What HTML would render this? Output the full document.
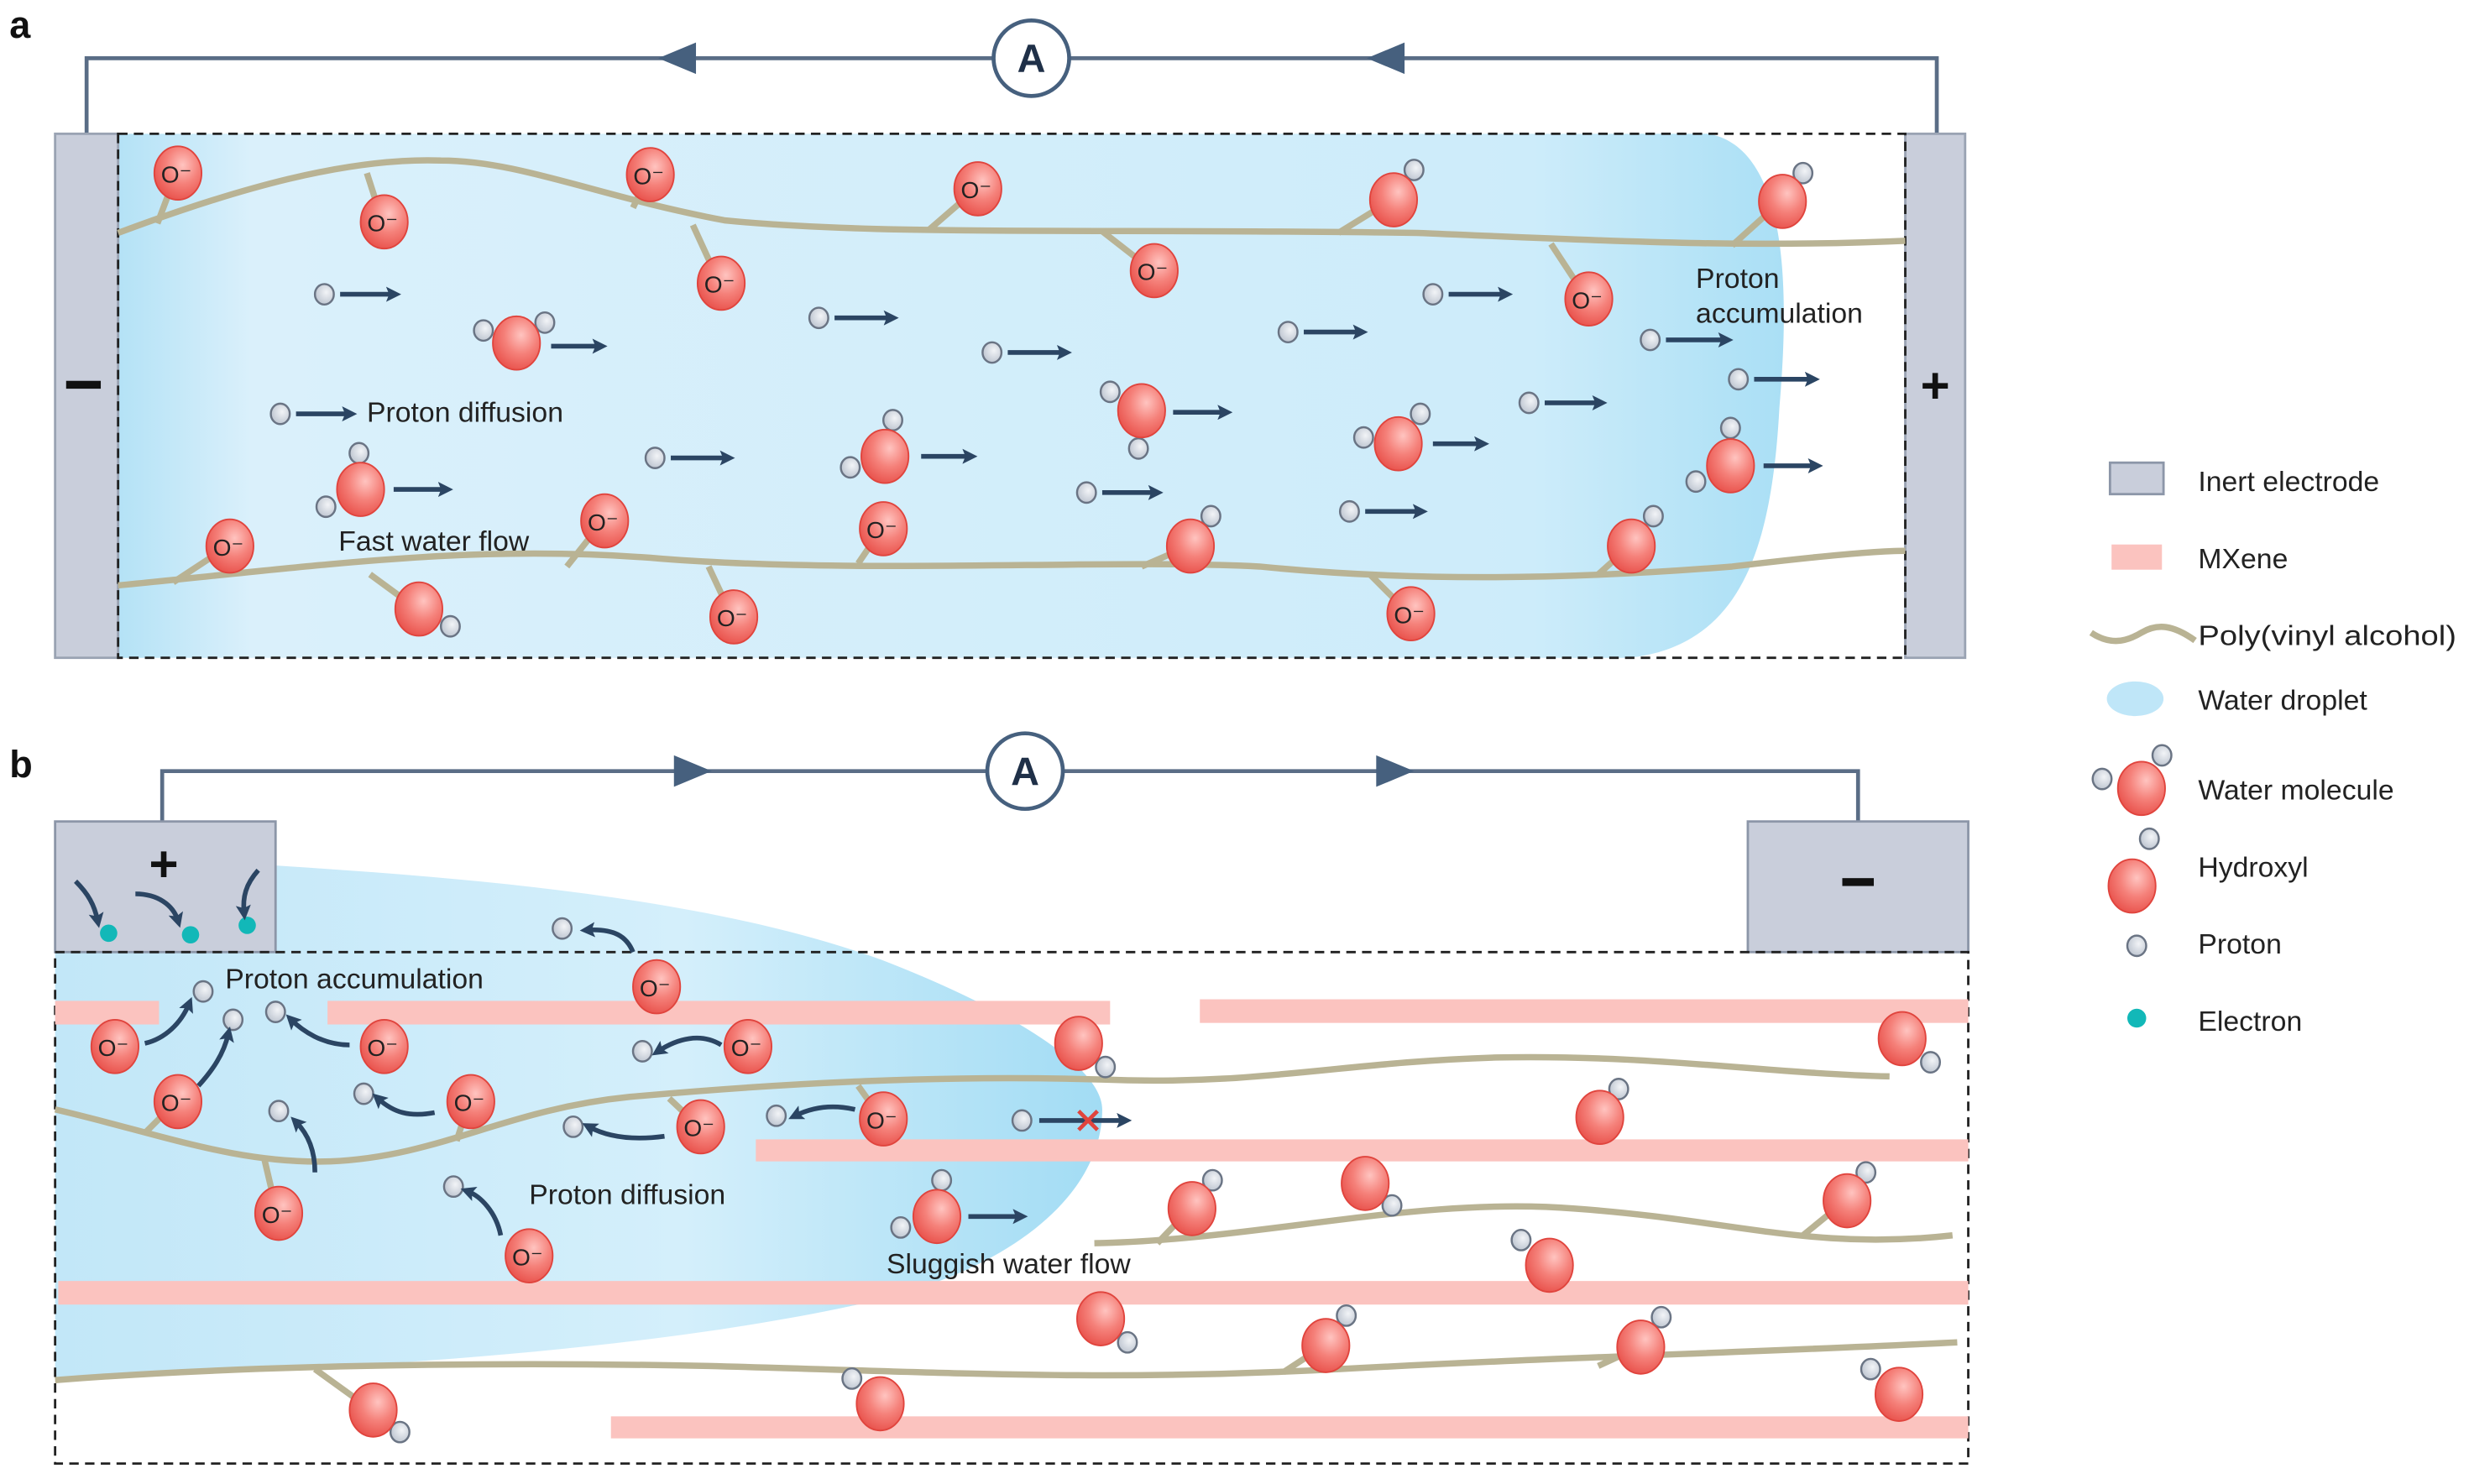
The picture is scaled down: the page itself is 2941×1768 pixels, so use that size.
<!DOCTYPE html>
<html><head><meta charset="utf-8"><style>
html,body{margin:0;padding:0;background:#fff}
svg{display:block}
text{font-family:"Liberation Sans",sans-serif;fill:#222}
.o{font-size:15px;text-anchor:middle}
</style></head><body>
<svg width="2941" height="1768" viewBox="0 0 1568 943" preserveAspectRatio="none">
<defs>
<radialGradient id="rg" cx="0.6" cy="0.35" r="0.7"><stop offset="0" stop-color="#ffc4c0"/><stop offset="0.5" stop-color="#f5817a"/><stop offset="1" stop-color="#e8504a"/></radialGradient>
<radialGradient id="gg" cx="0.6" cy="0.4" r="0.7"><stop offset="0" stop-color="#f2f4f7"/><stop offset="1" stop-color="#b8c0cc"/></radialGradient>
<linearGradient id="wa" x1="0" y1="0" x2="1" y2="0"><stop offset="0" stop-color="#b4e2f6"/><stop offset="0.08" stop-color="#daf0fb"/><stop offset="0.85" stop-color="#cdecfa"/><stop offset="1" stop-color="#aadff5"/></linearGradient>
<linearGradient id="wb" x1="0" y1="0" x2="1" y2="0"><stop offset="0" stop-color="#c2e7f8"/><stop offset="0.6" stop-color="#d4effb"/><stop offset="1" stop-color="#a2dcf4"/></linearGradient>
<symbol id="O" viewBox="-16 -19 32 38" overflow="visible"><ellipse cx="0" cy="0" rx="15" ry="17" fill="url(#rg)" stroke="#e0443d" stroke-width="1"/></symbol>
<symbol id="H" viewBox="-7 -7 14 14" overflow="visible"><ellipse cx="0" cy="0" rx="6" ry="6.5" fill="url(#gg)" stroke="#6a7484" stroke-width="1.3"/></symbol>
<marker id="ah" viewBox="0 0 10 10" refX="5" refY="5" markerWidth="3.2" markerHeight="3.2" orient="auto"><path d="M0,0 L10,5 L0,10 L2,5z" fill="#2b4563"/></marker>
</defs>

<text x="6" y="24" style="font-size:24px;font-weight:bold;fill:#111">a</text>
<text x="6" y="494" style="font-size:24px;font-weight:bold;fill:#111">b</text>

<!-- ===== PANEL A ===== -->
<path d="M55,85 V37 H1230 V85" fill="none" stroke="#5a6d86" stroke-width="2.5"/>
<path d="M418,37 l24,-10 v20z" fill="#46607e"/>
<path d="M868,37 l24,-10 v20z" fill="#46607e"/>
<circle cx="655" cy="37" r="24" fill="#fff" stroke="#46607e" stroke-width="2.5"/>
<text x="655" y="46" style="font-size:25px;font-weight:bold;text-anchor:middle;fill:#1f3048">A</text>

<path d="M75,85 H1085 C1140,95 1135,200 1130,260 C1125,350 1105,410 1035,418 H75 Z" fill="url(#wa)"/>
<rect x="35" y="85" width="40" height="333" fill="#c9cedb" stroke="#9aa3b3" stroke-width="1.5"/>
<rect x="1210" y="85" width="38" height="333" fill="#c9cedb" stroke="#9aa3b3" stroke-width="1.5"/>
<rect x="75" y="85" width="1135" height="333" fill="none" stroke="#222" stroke-width="1.5" stroke-dasharray="6,4"/>
<rect x="42" y="242" width="22" height="5" fill="#111"/>
<text x="1229" y="256" style="font-size:32px;font-weight:bold;text-anchor:middle;fill:#111">+</text>

<g fill="none" stroke="#b9b394" stroke-width="4">
<path d="M75,148 C150,120 220,100 280,102 C330,102 380,125 460,140 C560,150 700,145 900,148 C1000,152 1100,158 1210,153"/>
<path d="M75,372 C200,360 300,345 420,355 C550,365 700,355 800,360 C900,370 1000,368 1100,360 C1150,354 1190,350 1210,350"/>
<path d="M112,110 L100,142 M243,141 L233,110 M412,111 L402,132 M457,180 L440,143 M620,120 L590,146 M732,172 L700,147 M1008,190 L985,155 M884,127 L850,148 M1131,128 L1100,156 M145,347 L110,370 M383,331 L360,360 M560,336 L545,358 M465,392 L450,360 M895,390 L870,365 M755,347 L725,360 M1035,347 L1015,365 M265,387 L235,365"/>
</g>

<g>
<use href="#O" x="97" y="91" width="32" height="38"/><use href="#O" x="228" y="122" width="32" height="38"/>
<use href="#O" x="397" y="92" width="32" height="38"/><use href="#O" x="442" y="161" width="32" height="38"/>
<use href="#O" x="605" y="101" width="32" height="38"/><use href="#O" x="717" y="153" width="32" height="38"/>
<use href="#O" x="993" y="171" width="32" height="38"/><use href="#O" x="130" y="328" width="32" height="38"/>
<use href="#O" x="368" y="312" width="32" height="38"/><use href="#O" x="545" y="317" width="32" height="38"/>
<use href="#O" x="450" y="373" width="32" height="38"/><use href="#O" x="880" y="371" width="32" height="38"/>
</g>
<g>
<text class="o" x="112" y="116">O⁻</text><text class="o" x="243" y="147">O⁻</text><text class="o" x="412" y="117">O⁻</text>
<text class="o" x="457" y="186">O⁻</text><text class="o" x="620" y="126">O⁻</text><text class="o" x="732" y="178">O⁻</text>
<text class="o" x="1008" y="196">O⁻</text><text class="o" x="145" y="353">O⁻</text><text class="o" x="383" y="337">O⁻</text>
<text class="o" x="560" y="342">O⁻</text><text class="o" x="465" y="398">O⁻</text><text class="o" x="895" y="396">O⁻</text>
</g>

<g>
<use href="#H" x="891" y="101" width="14" height="14"/><use href="#O" x="869" y="108" width="32" height="38"/>
<use href="#H" x="1138" y="103" width="14" height="14"/><use href="#O" x="1116" y="109" width="32" height="38"/>
<use href="#H" x="300" y="203" width="14" height="14"/><use href="#H" x="339" y="198" width="14" height="14"/><use href="#O" x="312" y="199" width="32" height="38"/>
<use href="#H" x="221" y="281" width="14" height="14"/><use href="#H" x="200" y="315" width="14" height="14"/><use href="#O" x="213" y="292" width="32" height="38"/>
<use href="#H" x="560" y="260" width="14" height="14"/><use href="#H" x="533" y="290" width="14" height="14"/><use href="#O" x="546" y="271" width="32" height="38"/>
<use href="#H" x="698" y="242" width="14" height="14"/><use href="#H" x="716" y="278" width="14" height="14"/><use href="#O" x="709" y="242" width="32" height="38"/>
<use href="#H" x="859" y="271" width="14" height="14"/><use href="#H" x="895" y="256" width="14" height="14"/><use href="#O" x="872" y="263" width="32" height="38"/>
<use href="#H" x="1092" y="265" width="14" height="14"/><use href="#H" x="1070" y="299" width="14" height="14"/><use href="#O" x="1083" y="277" width="32" height="38"/>
<use href="#H" x="762" y="321" width="14" height="14"/><use href="#O" x="740" y="328" width="32" height="38"/>
<use href="#H" x="1043" y="321" width="14" height="14"/><use href="#O" x="1020" y="328" width="32" height="38"/>
<use href="#H" x="279" y="391" width="14" height="14"/><use href="#O" x="250" y="368" width="32" height="38"/>
</g>
<g>
<use href="#H" x="199" y="180" width="14" height="14"/><use href="#H" x="171" y="256" width="14" height="14"/>
<use href="#H" x="513" y="195" width="14" height="14"/><use href="#H" x="623" y="217" width="14" height="14"/>
<use href="#H" x="409" y="284" width="14" height="14"/><use href="#H" x="683" y="306" width="14" height="14"/>
<use href="#H" x="811" y="204" width="14" height="14"/><use href="#H" x="903" y="180" width="14" height="14"/>
<use href="#H" x="964" y="249" width="14" height="14"/><use href="#H" x="850" y="318" width="14" height="14"/>
<use href="#H" x="1041" y="209" width="14" height="14"/><use href="#H" x="1097" y="234" width="14" height="14"/>
</g>
<g stroke="#2b4563" stroke-width="3" marker-end="url(#ah)">
<path d="M216,187 H250"/><path d="M188,263 H222"/><path d="M530,202 H566"/><path d="M640,224 H676"/>
<path d="M426,291 H462"/><path d="M700,313 H734"/><path d="M828,211 H864"/><path d="M920,187 H956"/>
<path d="M981,256 H1016"/><path d="M867,325 H902"/><path d="M1058,216 H1096"/><path d="M1114,241 H1151"/>
<path d="M350,220 H381"/><path d="M250,311 H283"/><path d="M585,290 H616"/><path d="M745,262 H778"/>
<path d="M910,282 H941"/><path d="M1120,296 H1153"/>
</g>
<text x="233" y="268" style="font-size:18px">Proton diffusion</text>
<text x="215" y="350" style="font-size:18px">Fast water flow</text>
<text x="1077" y="183" style="font-size:18px">Proton</text>
<text x="1077" y="205" style="font-size:18px">accumulation</text>

<!-- ===== PANEL B ===== -->
<path d="M103,522 V490 H1180 V522" fill="none" stroke="#5a6d86" stroke-width="2.5"/>
<path d="M452,490 l-24,-10 v20z" fill="#46607e"/>
<path d="M898,490 l-24,-10 v20z" fill="#46607e"/>
<circle cx="651" cy="490" r="24" fill="#fff" stroke="#46607e" stroke-width="2.5"/>
<text x="651" y="499" style="font-size:25px;font-weight:bold;text-anchor:middle;fill:#1f3048">A</text>

<path d="M175,550 C300,558 450,570 560,610 C650,645 700,680 700,705 C700,760 640,810 540,830 C400,860 200,872 35,875 V605 H175 Z" fill="url(#wb)"/>
<rect x="35" y="522" width="140" height="83" fill="#c9cedb" stroke="#8c96a8" stroke-width="1.5"/>
<rect x="1110" y="522" width="140" height="83" fill="#c9cedb" stroke="#8c96a8" stroke-width="1.5"/>
<text x="104" y="560" style="font-size:32px;font-weight:bold;text-anchor:middle;fill:#111">+</text>
<rect x="1170" y="558" width="20" height="5" fill="#111"/>
<rect x="35" y="605" width="1215" height="325" fill="none" stroke="#222" stroke-width="1.5" stroke-dasharray="6,4"/>

<g fill="#fbc3bf">
<rect x="35" y="636" width="66" height="15"/><rect x="208" y="636" width="497" height="15"/>
<rect x="762" y="635" width="488" height="15"/><rect x="480" y="724" width="770" height="14"/>
<rect x="37" y="814" width="1213" height="15"/><rect x="388" y="900" width="862" height="14"/>
</g>

<g fill="none" stroke="#b9b394" stroke-width="4">
<path d="M35,705 C100,720 150,740 210,738 C280,735 320,705 400,697 C500,688 600,683 700,686 C800,690 850,675 950,672 C1050,670 1120,682 1200,684"/>
<path d="M695,790 C800,788 900,760 1000,768 C1100,775 1150,795 1240,785"/>
<path d="M35,877 C150,868 300,865 450,868 C600,872 700,878 850,870 C1000,862 1100,860 1243,853"/>
<path d="M112,700 L92,720 M298,700 L290,725 M176,771 L168,737 M444,716 L425,698 M560,711 L545,690 M756,768 L735,790 M1172,763 L1145,785 M841,855 L815,872 M1041,856 L1015,868 M236,896 L200,870"/>
</g>

<g fill="#12b8b8"><circle cx="69" cy="593" r="5.5"/><circle cx="121" cy="594" r="5.5"/><circle cx="157" cy="588" r="5.5"/></g>

<g>
<use href="#O" x="57" y="646" width="32" height="38"/><use href="#O" x="97" y="681" width="32" height="38"/>
<use href="#O" x="228" y="646" width="32" height="38"/><use href="#O" x="283" y="681" width="32" height="38"/>
<use href="#O" x="401" y="608" width="32" height="38"/><use href="#O" x="459" y="646" width="32" height="38"/>
<use href="#O" x="429" y="697" width="32" height="38"/><use href="#O" x="545" y="692" width="32" height="38"/>
<use href="#O" x="161" y="752" width="32" height="38"/><use href="#O" x="320" y="779" width="32" height="38"/>
</g>
<g>
<text class="o" x="72" y="671">O⁻</text><text class="o" x="112" y="706">O⁻</text><text class="o" x="243" y="671">O⁻</text>
<text class="o" x="298" y="706">O⁻</text><text class="o" x="416" y="633">O⁻</text><text class="o" x="474" y="671">O⁻</text>
<text class="o" x="444" y="722">O⁻</text><text class="o" x="560" y="717">O⁻</text><text class="o" x="176" y="777">O⁻</text>
<text class="o" x="335" y="804">O⁻</text>
</g>

<g>
<use href="#H" x="695" y="671" width="14" height="14"/><use href="#O" x="669" y="644" width="32" height="38"/>
<use href="#H" x="1219" y="668" width="14" height="14"/><use href="#O" x="1192" y="641" width="32" height="38"/>
<use href="#H" x="1021" y="685" width="14" height="14"/><use href="#O" x="1000" y="691" width="32" height="38"/>
<use href="#H" x="763" y="743" width="14" height="14"/><use href="#O" x="741" y="749" width="32" height="38"/>
<use href="#H" x="877" y="759" width="14" height="14"/><use href="#O" x="851" y="733" width="32" height="38"/>
<use href="#H" x="1178" y="738" width="14" height="14"/><use href="#O" x="1157" y="744" width="32" height="38"/>
<use href="#H" x="959" y="781" width="14" height="14"/><use href="#O" x="968" y="785" width="32" height="38"/>
<use href="#H" x="709" y="846" width="14" height="14"/><use href="#O" x="683" y="819" width="32" height="38"/>
<use href="#H" x="848" y="829" width="14" height="14"/><use href="#O" x="826" y="836" width="32" height="38"/>
<use href="#H" x="1048" y="830" width="14" height="14"/><use href="#O" x="1026" y="837" width="32" height="38"/>
<use href="#H" x="247" y="903" width="14" height="14"/><use href="#O" x="221" y="877" width="32" height="38"/>
<use href="#H" x="534" y="869" width="14" height="14"/><use href="#O" x="543" y="873" width="32" height="38"/>
<use href="#H" x="1181" y="863" width="14" height="14"/><use href="#O" x="1190" y="867" width="32" height="38"/>
<use href="#H" x="591" y="743" width="14" height="14"/><use href="#H" x="565" y="773" width="14" height="14"/><use href="#O" x="579" y="754" width="32" height="38"/>
</g>
<g>
<use href="#H" x="122" y="623" width="14" height="14"/><use href="#H" x="141" y="641" width="14" height="14"/>
<use href="#H" x="168" y="636" width="14" height="14"/><use href="#H" x="350" y="583" width="14" height="14"/>
<use href="#H" x="401" y="661" width="14" height="14"/><use href="#H" x="224" y="688" width="14" height="14"/>
<use href="#H" x="357" y="709" width="14" height="14"/><use href="#H" x="170" y="699" width="14" height="14"/>
<use href="#H" x="281" y="747" width="14" height="14"/><use href="#H" x="486" y="702" width="14" height="14"/>
<use href="#H" x="642" y="705" width="14" height="14"/>
</g>
<g fill="none" stroke="#2b4563" stroke-width="3" marker-end="url(#ah)">
<path d="M48,560 C56,568 60,575 62,585"/><path d="M86,568 C100,568 110,575 113,585"/><path d="M164,553 C156,562 154,570 155,580"/>
<path d="M92,663 C105,660 115,650 120,638"/><path d="M126,690 C135,680 142,670 145,657"/>
<path d="M222,664 C205,664 192,655 185,648"/><path d="M402,605 C398,595 390,590 373,591"/>
<path d="M458,664 C445,656 430,660 418,668"/><path d="M276,707 C260,710 250,707 240,698"/>
<path d="M422,722 C400,725 385,722 374,716"/><path d="M200,745 C200,730 195,720 188,713"/>
<path d="M318,785 C315,770 305,760 297,757"/><path d="M543,705 C530,702 517,703 505,709"/>
<path d="M615,773 H648"/><path d="M660,712 H714"/>
</g>
<path d="M685,706 l12,12 M697,706 l-12,12" stroke="#e0443d" stroke-width="2.5"/>
<text x="143" y="628" style="font-size:18px">Proton accumulation</text>
<text x="336" y="765" style="font-size:18px">Proton diffusion</text>
<text x="563" y="809" style="font-size:18px">Sluggish water flow</text>

<!-- ===== LEGEND ===== -->
<rect x="1340" y="294" width="34" height="20" fill="#c9cedb" stroke="#8c96a8" stroke-width="1.5"/>
<rect x="1341" y="346" width="32" height="16" fill="#fbc3bf"/>
<path d="M1328,402 C1340,410 1350,408 1360,402 C1370,396 1380,397 1394,407" fill="none" stroke="#b9b394" stroke-width="4"/>
<ellipse cx="1356" cy="444" rx="18" ry="11" fill="#bfe6f8"/>
<use href="#H" x="1328" y="488" width="14" height="14"/><use href="#H" x="1366" y="473" width="14" height="14"/>
<use href="#O" x="1344" y="482" width="32" height="38"/>
<use href="#H" x="1358" y="526" width="14" height="14"/><use href="#O" x="1338" y="544" width="32" height="38"/>
<use href="#H" x="1350" y="594" width="14" height="14"/>
<circle cx="1357" cy="647" r="6" fill="#12b8b8"/>
<g style="font-size:18px">
<text x="1396" y="312">Inert electrode</text>
<text x="1396" y="361">MXene</text>
<text x="1396" y="410" textLength="164" lengthAdjust="spacingAndGlyphs">Poly(vinyl alcohol)</text>
<text x="1396" y="451">Water droplet</text>
<text x="1396" y="508">Water molecule</text>
<text x="1396" y="557">Hydroxyl</text>
<text x="1396" y="606">Proton</text>
<text x="1396" y="655">Electron</text>
</g>
</svg>
</body></html>
